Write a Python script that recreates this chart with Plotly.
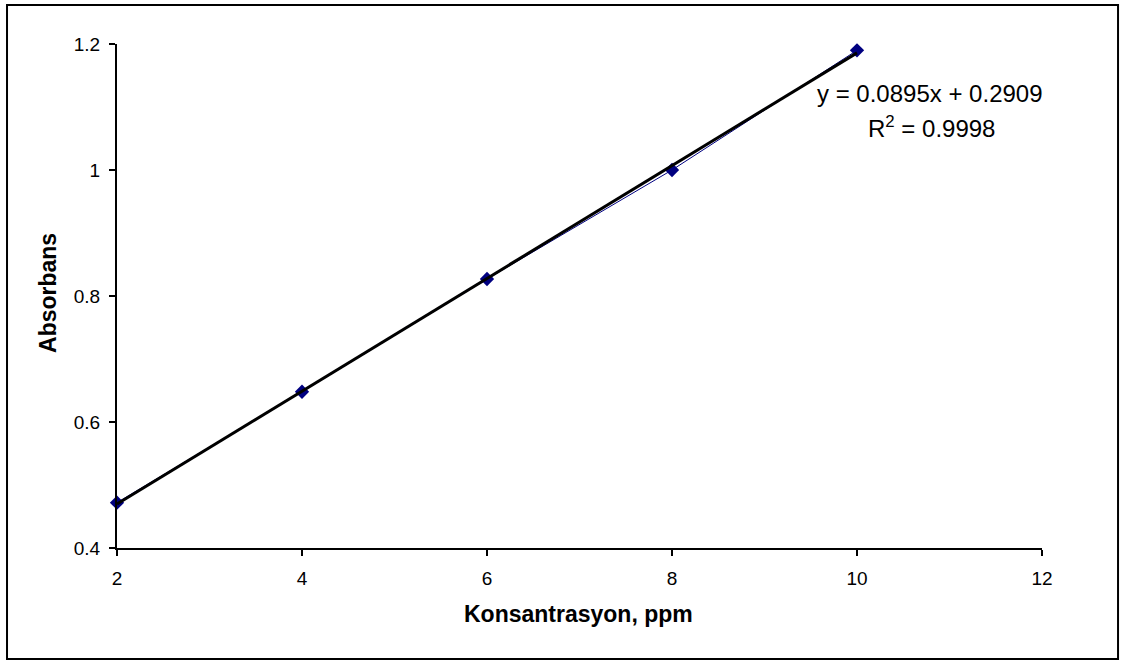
import plotly.graph_objects as go

# Calibration data: concentration (ppm) vs. absorbance
konsantrasyon = [2, 4, 6, 8, 10]
absorbans = [0.472, 0.648, 0.827, 1.000, 1.190]

# Linear trendline parameters as printed on the chart
slope = 0.0895
intercept = 0.2909
r_squared = 0.9998

x_ticks = [2, 4, 6, 8, 10, 12]
y_ticks = [0.4, 0.6, 0.8, 1.0, 1.2]

FONT = "Liberation Sans, Arial, sans-serif"
NAVY = "#000080"

trend_x = [konsantrasyon[0], konsantrasyon[-1]]
trend_y = [slope * x + intercept for x in trend_x]

fig = go.Figure()

# measured points joined by a thin line
fig.add_trace(go.Scatter(
    x=konsantrasyon, y=absorbans, mode="lines+markers",
    line=dict(color=NAVY, width=1),
    marker=dict(symbol="diamond", size=11, color=NAVY),
    cliponaxis=False, showlegend=False, hoverinfo="x+y",
))

# least-squares trendline
fig.add_trace(go.Scatter(
    x=trend_x, y=trend_y, mode="lines",
    line=dict(color="black", width=3),
    cliponaxis=False, showlegend=False, hoverinfo="skip",
))

axis_common = dict(
    showgrid=False, zeroline=False, showline=True,
    linecolor="black", linewidth=2,
    ticks="outside", ticklen=6, tickwidth=2, tickcolor="black",
    tickfont=dict(family=FONT, size=19, color="black"),
)

fig.update_xaxes(range=[x_ticks[0], x_ticks[-1]], tickvals=x_ticks,
                 ticklabelstandoff=6, **axis_common)
fig.update_yaxes(range=[y_ticks[0], y_ticks[-1]], tickvals=y_ticks,
                 ticktext=[f"{v:g}" for v in y_ticks],
                 ticklabelstandoff=5, **axis_common)

annotations = [
    dict(text="<b>Konsantrasyon, ppm</b>", xref="paper", yref="paper",
         x=0.4984, y=-0.131, xanchor="center", yanchor="middle", showarrow=False,
         font=dict(family=FONT, size=23, color="black")),
    dict(text="<b>Absorbans</b>", xref="paper", yref="paper",
         x=-0.0746, y=0.506, xanchor="center", yanchor="middle", showarrow=False,
         textangle=-90, font=dict(family=FONT, size=23, color="black")),
    dict(text=f"y = {slope:.4f}x + {intercept:.4f}", xref="paper", yref="paper",
         x=0.879, y=0.9008, xanchor="center", yanchor="middle", showarrow=False,
         font=dict(family=FONT, size=24, color="black")),
    dict(text=f"R<sup>2</sup> = {r_squared:.4f}", xref="paper", yref="paper",
         x=0.881, y=0.835, xanchor="center", yanchor="middle", showarrow=False,
         font=dict(family=FONT, size=24, color="black")),
]

fig.update_layout(
    width=1122, height=660,
    margin=dict(l=117, r=80, t=44, b=112),
    paper_bgcolor="white", plot_bgcolor="white",
    annotations=annotations,
    shapes=[dict(type="rect", xref="paper", yref="paper",
                 x0=-0.1189, x1=1.0822, y0=-0.2202, y1=1.0774,
                 line=dict(color="black", width=2), layer="below")],
    font=dict(family=FONT, color="black"),
)

fig.write_html("out.html")
